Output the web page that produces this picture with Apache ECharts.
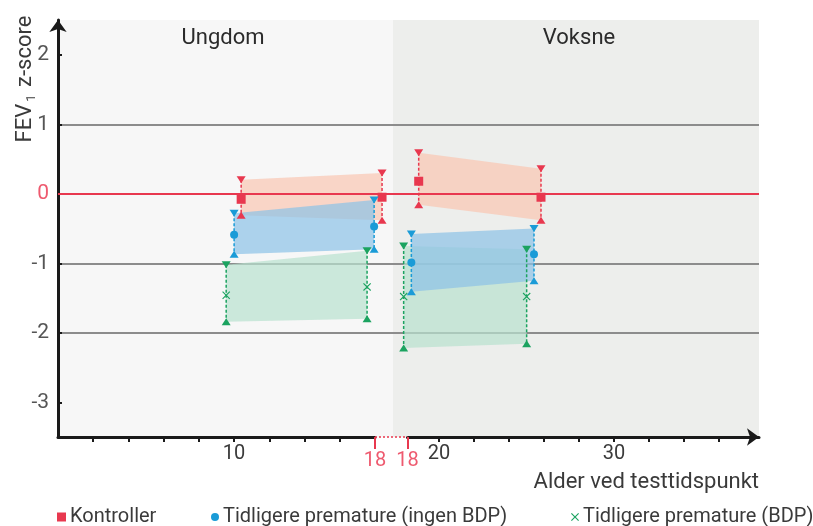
<!DOCTYPE html>
<html>
<head>
<meta charset="utf-8">
<script src="https://cdn.jsdelivr.net/npm/echarts@6/dist/echarts.min.js"></script>
<style>
html, body { margin: 0; padding: 0; background: #fff; }
#chart { width: 813px; height: 526px; }
</style>
</head>
<body>
<div id="chart"></div>
<script>
// grupper (legend)
var grupper = ['Kontroller', 'Tidligere premature (ingen BDP)', 'Tidligere premature (BDP)'];

// Ungdom: alder ved de to testene, snitt og ovre/nedre grense
var ungAlder = [[10.4, 18.4], [10.0, 17.95], [9.55, 17.55]];
var ungSnitt = [[-0.08, -0.05], [-0.59, -0.47], [-1.46, -1.34]];
var ungOvre = [[0.20, 0.30], [-0.28, -0.09], [-1.02, -0.82]];
var ungNedre = [[-0.31, -0.38], [-0.87, -0.80], [-1.84, -1.80]];

// Voksne
var voksAlder = [[18.84, 25.83], [18.42, 25.43], [17.98, 25.01]];
var voksSnitt = [[0.18, -0.05], [-0.99, -0.87], [-1.48, -1.48]];
var voksOvre = [[0.59, 0.36], [-0.58, -0.50], [-0.75, -0.80]];
var voksNedre = [[-0.16, -0.38], [-1.41, -1.25], [-2.22, -2.16]];

// akser
var yTicks = [-3, -2, -1, 0, 1, 2];
var ungTicks = [2, 4, 6, 8, 10, 12, 14, 16];
var ungLabels = [10];
var voksTicks = [20, 22, 24, 26, 28, 30, 32, 34, 36];
var voksLabels = [20, 30];
var brudd = 18;

var FONT = 'Roboto';
var ROD = '#e8384f';
var farger = [ROD, '#1a9bd7', '#1ba360'];
var baandFarger = ['rgba(250,198,178,0.7)', 'rgba(140,194,231,0.7)', 'rgba(184,225,207,0.7)'];
var krysset = 'path://M1,0L5,4L9,0L10,1L6,5L10,9L9,10L5,6L1,10L0,9L4,5L0,1Z';
var snittSymbol = ['rect', 'circle', krysset];
var snittSize = [9, 8, 8];

var myChart = echarts.init(document.getElementById('chart'));

function baandSerie(i, akse, alder, ovre, nedre) {
    return {
        name: grupper[i] + ' bånd',
        type: 'custom',
        xAxisIndex: akse, yAxisIndex: akse,
        clip: false, silent: true, z: 1,
        data: [[alder[0], ovre[0], nedre[0], alder[1], ovre[1], nedre[1]]],
        renderItem: function (params, api) {
            var a = api.coord([api.value(0), api.value(1)]);
            var b = api.coord([api.value(3), api.value(4)]);
            var c = api.coord([api.value(3), api.value(5)]);
            var d = api.coord([api.value(0), api.value(2)]);
            return {
                type: 'polygon',
                shape: { points: [a, b, c, d] },
                style: { fill: baandFarger[i] }
            };
        }
    };
}

function strekSerie(i, akse, alder, ovre, nedre) {
    return {
        name: grupper[i] + ' spenn',
        type: 'custom',
        xAxisIndex: akse, yAxisIndex: akse,
        clip: false, silent: true, z: 3,
        data: [[alder[0], ovre[0], nedre[0]], [alder[1], ovre[1], nedre[1]]],
        renderItem: function (params, api) {
            var top = api.coord([api.value(0), api.value(1)]);
            var bunn = api.coord([api.value(0), api.value(2)]);
            return {
                type: 'line',
                shape: { x1: top[0], y1: top[1], x2: bunn[0], y2: bunn[1] },
                style: { stroke: farger[i], lineWidth: 1.5, lineDash: [3, 2] }
            };
        }
    };
}

function punktSerie(navn, i, akse, alder, verdi, symbol, size, rot) {
    return {
        name: navn,
        type: 'scatter',
        xAxisIndex: akse, yAxisIndex: akse,
        clip: false, silent: true, z: 4,
        symbol: symbol, symbolSize: size, symbolRotate: rot || 0,
        itemStyle: { color: farger[i], opacity: 1 },
        data: [[alder[0], verdi[0]], [alder[1], verdi[1]]]
    };
}

var series = [];
var bandOrder = [0, 2, 1];
bandOrder.forEach(function (i) {
    series.push(baandSerie(i, 1, ungAlder[i], ungOvre[i], ungNedre[i]));
    series.push(baandSerie(i, 2, voksAlder[i], voksOvre[i], voksNedre[i]));
});
// nullinje
series.push({
    name: 'null', type: 'line', xAxisIndex: 0, yAxisIndex: 0,
    data: [], z: 2,
    markLine: {
        silent: true, symbol: ['none', 'none'], label: { show: false },
        lineStyle: { color: ROD, width: 2, type: 'solid' },
        data: [{ yAxis: 0 }]
    }
});
for (var i = 0; i < grupper.length; i++) {
    series.push(strekSerie(i, 1, ungAlder[i], ungOvre[i], ungNedre[i]));
    series.push(strekSerie(i, 2, voksAlder[i], voksOvre[i], voksNedre[i]));
    series.push(punktSerie(grupper[i] + ' ovre', i, 1, ungAlder[i], ungOvre[i], 'triangle', [9, 7], 180));
    series.push(punktSerie(grupper[i] + ' ovre', i, 2, voksAlder[i], voksOvre[i], 'triangle', [9, 7], 180));
    series.push(punktSerie(grupper[i] + ' nedre', i, 1, ungAlder[i], ungNedre[i], 'triangle', [9, 7]));
    series.push(punktSerie(grupper[i] + ' nedre', i, 2, voksAlder[i], voksNedre[i], 'triangle', [9, 7]));
    series.push(punktSerie(grupper[i], i, 1, ungAlder[i], ungSnitt[i], snittSymbol[i], snittSize[i]));
    series.push(punktSerie(grupper[i], i, 2, voksAlder[i], voksSnitt[i], snittSymbol[i], snittSize[i]));
}

var skjult = { show: false };
var svart = '#1a1a1a';
var tekst = '#3a3a3a';

var option = {
    animation: false,
    textStyle: { fontFamily: FONT },
    grid: [
        { left: 58, top: 20, width: 701, height: 417, show: true, backgroundColor: '#f7f7f7', borderWidth: 0, outerBoundsMode: 'none' },
        { left: 58, top: 20, width: 317, height: 417, outerBoundsMode: 'none' },
        { left: 407.5, top: 20, width: 351.5, height: 417, outerBoundsMode: 'none' },
        { left: 393, top: 20, width: 366, height: 417, show: true, backgroundColor: '#edeeec', borderWidth: 0, outerBoundsMode: 'none' }
    ],
    xAxis: [
        { gridIndex: 0, type: 'value', min: 0, max: 1, show: false },
        {
            gridIndex: 1, type: 'value', min: 0, max: brudd, position: 'bottom',
            axisLine: { onZero: false, lineStyle: { color: svart, width: 3 } },
            axisTick: { customValues: ungTicks, length: 5, lineStyle: { color: svart, width: 2 } },
            axisLabel: { customValues: ungLabels, fontFamily: FONT, fontSize: 20, color: tekst, margin: 7 },
            splitLine: skjult
        },
        {
            gridIndex: 2, type: 'value', min: 18.2, max: 38.29, position: 'bottom',
            axisLine: { onZero: false, lineStyle: { color: svart, width: 3 }, symbol: ['none', 'arrow'], symbolSize: [13, 12] },
            axisTick: { customValues: voksTicks, length: 5, lineStyle: { color: svart, width: 2 } },
            axisLabel: { customValues: voksLabels, fontFamily: FONT, fontSize: 20, color: tekst, margin: 7 },
            splitLine: skjult,
            name: 'Alder ved testtidspunkt', nameLocation: 'end', nameGap: 0,
            nameTextStyle: { fontFamily: FONT, fontSize: 22, color: tekst, align: 'right', verticalAlign: 'top', padding: [34, 0, 0, 0] }
        },
        {
            gridIndex: 1, type: 'value', min: 0, max: brudd, position: 'bottom',
            axisLine: { show: false, onZero: false },
            axisTick: { customValues: [brudd], length: 12, lineStyle: { color: ROD, width: 2 } },
            axisLabel: { customValues: [brudd], fontFamily: FONT, fontSize: 20, color: '#ee5a6f', margin: 14 },
            splitLine: skjult
        },
        {
            gridIndex: 2, type: 'value', min: 18.2, max: 38.29, position: 'bottom',
            axisLine: { show: false, onZero: false },
            axisTick: { customValues: [18.2], length: 12, lineStyle: { color: ROD, width: 2 } },
            axisLabel: { customValues: [18.2], formatter: function () { return String(brudd); }, fontFamily: FONT, fontSize: 20, color: '#ee5a6f', margin: 14 },
            splitLine: skjult
        },
        { gridIndex: 3, type: 'value', min: 0, max: 1, show: false }
    ],
    yAxis: [
        {
            gridIndex: 0, type: 'value', min: -3.5, max: 2.5,
            axisLine: { show: true, onZero: false, lineStyle: { color: svart, width: 3 }, symbol: ['none', 'arrow'], symbolSize: [13, 12] },
            axisTick: { show: true, inside: true, length: 4, customValues: yTicks, lineStyle: { color: svart, width: 2 } },
            axisLabel: {
                customValues: yTicks, fontFamily: FONT, fontSize: 21, margin: 9,
                color: function (v) { return Number(v) === 0 ? '#ee5a6f' : '#555'; }
            },
            splitLine: { show: true, showMinLine: false, showMaxLine: false, lineStyle: { color: '#8c8c8c', width: 2 } }
        },
        { gridIndex: 1, type: 'value', min: -3.5, max: 2.5, show: false },
        { gridIndex: 2, type: 'value', min: -3.5, max: 2.5, show: false },
        { gridIndex: 3, type: 'value', min: 0, max: 1, show: false }
    ],
    legend: [
        { data: [{ name: grupper[0], icon: 'rect' }], left: 57, top: 507 },
        { data: [{ name: grupper[1], icon: 'circle' }], left: 211, top: 507 },
        { data: [{ name: grupper[2], icon: krysset }], left: 571, top: 507 }
    ].map(function (l, k) {
        l.selectedMode = false;
        l.padding = 0;
        l.itemWidth = k === 0 ? 9 : 8;
        l.itemHeight = k === 0 ? 9 : 8;
        l.itemStyle = { color: farger[k] };
        l.textStyle = { fontFamily: FONT, fontSize: 20, color: tekst, padding: [0, 0, 0, -1] };
        return l;
    }),
    graphic: [
        {
            type: 'text', x: 25, y: 79, rotation: Math.PI / 2,
            style: {
                text: '{n|FEV}{s|1}{n| z-score}',
                align: 'center', verticalAlign: 'middle', fill: tekst,
                rich: {
                    n: { fontFamily: FONT, fontSize: 22, lineHeight: 26, fill: tekst },
                    s: { fontFamily: FONT, fontSize: 13, lineHeight: 26, fill: tekst, verticalAlign: 'bottom', padding: [0, 2, 0, 2] }
                }
            }
        },
        {
            type: 'text', x: 223, y: 38,
            style: { text: 'Ungdom', font: '22px ' + FONT, fill: '#2b2b2b', align: 'center', verticalAlign: 'middle' }
        },
        {
            type: 'text', x: 579, y: 38,
            style: { text: 'Voksne', font: '22px ' + FONT, fill: '#2b2b2b', align: 'center', verticalAlign: 'middle' }
        },
        {
            type: 'line', z: 10,
            shape: { x1: 375, y1: 437, x2: 407.5, y2: 437 },
            style: { stroke: ROD, lineWidth: 1.5, lineDash: [2, 2] }
        }
    ],
    series: series
};

myChart.setOption(option);
</script>
</body>
</html>
